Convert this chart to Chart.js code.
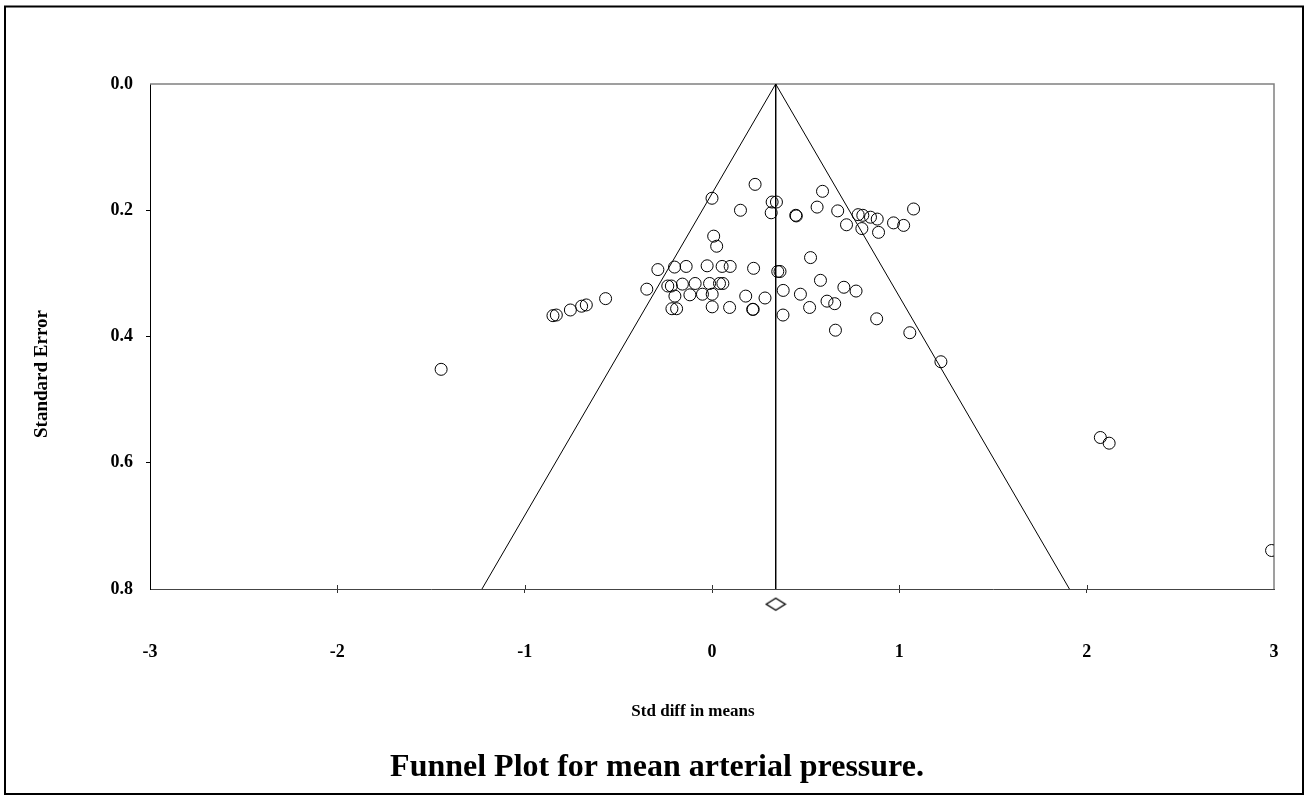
<!DOCTYPE html>
<html><head><meta charset="utf-8">
<script src="https://cdn.jsdelivr.net/npm/chart.js@4.4.1/dist/chart.umd.min.js"></script>
<style>html,body{margin:0;padding:0;background:#fff;} #wrap{width:1309px;height:800px;}</style>
</head><body><div id="wrap"><canvas id="c" width="1309" height="800"></canvas></div>
<script>
// Study effects (Std diff in means) and their standard errors
const studyEffect = [
  0.000, 0.230, 0.152, 0.321, 0.344, 0.316, 0.447, 0.450, 0.590, 0.561,
  0.671, 0.780, 0.805, 0.846, 0.882, 0.718, 0.800, 0.889, 0.969, 1.023,
  1.076, 0.009, 0.025, 0.526, -0.289, -0.200, -0.138, -0.026, 0.054, 0.097,
  0.222, 0.351, 0.363, -0.348, -0.236, -0.217, -0.158, -0.090, -0.013, 0.040,
  0.058, -0.198, -0.118, -0.051, 0.001, 0.180, 0.283, 0.380, 0.472, 0.579,
  0.704, 0.769, 0.614, 0.655, 0.521, -0.214, -0.189, 0.001, 0.094, 0.217,
  0.220, 0.379, 0.659, 0.879, 1.056, 1.222, 2.073, 2.120, 2.987, -1.446,
  -0.849, -0.831, -0.756, -0.696, -0.671, -0.568
];
const studySE = [
  0.181, 0.159, 0.200, 0.187, 0.187, 0.204, 0.208, 0.209, 0.170, 0.195,
  0.201, 0.207, 0.208, 0.211, 0.214, 0.223, 0.229, 0.235, 0.220, 0.224,
  0.198, 0.241, 0.257, 0.275, 0.294, 0.290, 0.289, 0.288, 0.289, 0.289,
  0.292, 0.297, 0.297, 0.325, 0.320, 0.320, 0.317, 0.316, 0.316, 0.316,
  0.316, 0.336, 0.334, 0.333, 0.333, 0.336, 0.339, 0.327, 0.333, 0.311,
  0.322, 0.328, 0.344, 0.348, 0.354, 0.356, 0.356, 0.353, 0.354, 0.357,
  0.357, 0.366, 0.390, 0.372, 0.394, 0.440, 0.560, 0.569, 0.739, 0.452,
  0.367, 0.366, 0.358, 0.352, 0.350, 0.340
];
const pooledEffect = 0.34;     // summary estimate (vertical line, diamond)
const diamondSE = 0.824;       // diamond drawn just below the axis
const seMax = 0.8;
const zCrit = 1.96;
const xTicks = [-3, -2, -1, 0, 1, 2, 3];
const yTicks = [0.0, 0.2, 0.4, 0.6, 0.8];
const titleText = 'Funnel Plot for mean arterial pressure.';
const xTitle = 'Std diff in means';
const yTitle = 'Standard Error';

const FONT = '"Liberation Serif", "Times New Roman", Times, serif';

const points = studyEffect.map((x, i) => ({x: x, y: studySE[i]}));
const funnel = [
  {x: pooledEffect - zCrit * seMax, y: seMax},
  {x: pooledEffect, y: 0},
  {x: pooledEffect + zCrit * seMax, y: seMax}
];
const centerLine = [{x: pooledEffect, y: 0}, {x: pooledEffect, y: seMax}];

// diamond marker image
const dm = document.createElement('canvas');
dm.width = 22; dm.height = 15;
(function(){
  const g = dm.getContext('2d');
  g.strokeStyle = '#000'; g.lineWidth = 1.4;
  g.beginPath(); g.moveTo(1.5, 7.5); g.lineTo(11, 1.5); g.lineTo(20.5, 7.5); g.lineTo(11, 13.5); g.closePath(); g.stroke();
})();

const framePlugin = {
  id: 'frame',
  beforeDatasetsDraw(chart) {
    const {ctx, chartArea: a, scales} = chart;
    ctx.save();
    ctx.strokeStyle = '#808080';
    ctx.lineWidth = 1.5;
    ctx.beginPath();
    ctx.moveTo(a.left, a.top); ctx.lineTo(a.right, a.top); ctx.lineTo(a.right, a.bottom);
    ctx.stroke();
    // upper half of the x tick marks (ticks cross the axis)
    ctx.strokeStyle = '#333';
    ctx.lineWidth = 1;
    ctx.beginPath();
    xTicks.slice(1, -1).forEach(v => {
      const px = Math.round(scales.x.getPixelForValue(v)) + 0.5;
      ctx.moveTo(px, a.bottom - 4); ctx.lineTo(px, a.bottom);
    });
    ctx.stroke();
    ctx.restore();
  },
  afterDraw(chart) {
    const {ctx} = chart;
    ctx.save();
    ctx.strokeStyle = '#000';
    ctx.lineWidth = 2;
    ctx.strokeRect(5, 6.5, 1298, 787.5);
    ctx.fillStyle = '#000';
    ctx.textAlign = 'center';
    ctx.textBaseline = 'middle';
    ctx.font = 'bold 17px ' + FONT;
    ctx.fillText(xTitle, 693, 712);
    ctx.translate(42.5, 374);
    ctx.rotate(-Math.PI / 2);
    ctx.font = 'bold 19px ' + FONT;
    ctx.fillText(yTitle, 0, 0);
    ctx.restore();
  }
};

new Chart(document.getElementById('c'), {
  type: 'scatter',
  data: {
    datasets: [
      {
        label: 'Studies', data: points,
        pointStyle: 'circle', pointRadius: 6, borderWidth: 1,
        borderColor: '#000', backgroundColor: 'rgba(0,0,0,0)', showLine: false
      },
      {
        type: 'line', label: 'Funnel', data: funnel,
        borderColor: '#000', borderWidth: 1, pointRadius: 0, fill: false, tension: 0
      },
      {
        type: 'line', label: 'Mean', data: centerLine,
        borderColor: '#000', borderWidth: 1, pointRadius: 0, fill: false, tension: 0
      },
      {
        label: 'Summary', data: [{x: pooledEffect, y: diamondSE}],
        pointStyle: dm, pointRadius: 22, borderWidth: 0, clip: false, showLine: false
      }
    ]
  },
  options: {
    responsive: false,
    animation: false,
    events: [],
    layout: {padding: {left: 40, right: 35, top: 84, bottom: 13}},
    plugins: {
      legend: {display: false},
      tooltip: {enabled: false},
      title: {
        display: true, text: titleText, position: 'bottom',
        color: '#000', padding: {top: 0, bottom: 0},
        font: {family: FONT, size: 32, weight: 'bold', lineHeight: 1.2}
      }
    },
    scales: {
      x: {
        type: 'linear', position: 'bottom', min: -3, max: 3,
        afterBuildTicks: s => { s.ticks = xTicks.map(v => ({value: v})); },
        afterFit: s => { s.height = 159.6; },
        ticks: {
          color: '#000', padding: 0, maxRotation: 0,
          font: {family: FONT, size: 18, weight: 'bold', lineHeight: '118px'},
          callback: v => String(v)
        },
        grid: {
          drawOnChartArea: false, drawTicks: true, tickLength: 4,
          tickColor: c => (c.tick && (c.tick.value === -3 || c.tick.value === 3)) ? 'rgba(0,0,0,0)' : '#333'
        },
        border: {display: true, color: '#444', width: 1}
      },
      y: {
        type: 'linear', position: 'left', reverse: true, min: 0, max: 0.8,
        afterBuildTicks: s => { s.ticks = yTicks.map(v => ({value: v})); },
        afterFit: s => { s.width = 110; },
        ticks: {
          color: '#000', padding: 13,
          font: {family: FONT, size: 18, weight: 'bold'},
          callback: v => Number(v).toFixed(1)
        },
        grid: {
          drawOnChartArea: false, drawTicks: true, tickLength: 4,
          tickColor: c => (c.tick && (c.tick.value === 0 || Math.abs(c.tick.value - 0.8) < 1e-9)) ? 'rgba(0,0,0,0)' : '#000'
        },
        border: {display: true, color: '#000', width: 1}
      }
    }
  },
  plugins: [framePlugin]
});
</script>
</body></html>
